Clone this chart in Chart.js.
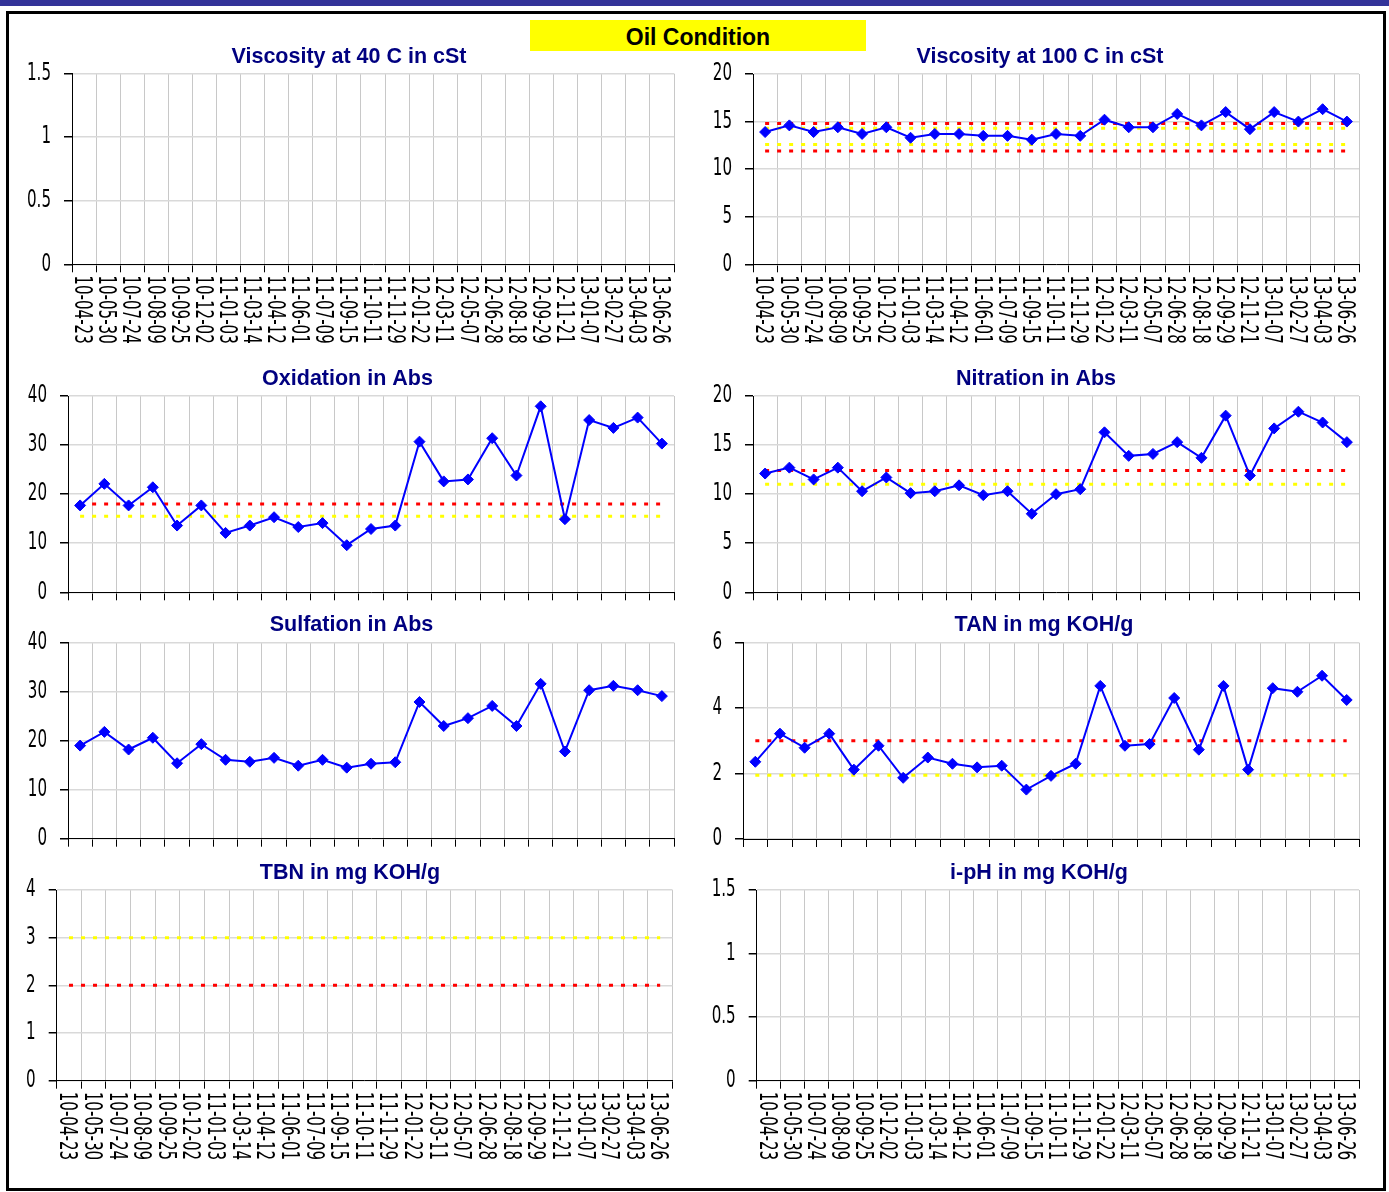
<!DOCTYPE html>
<html><head><meta charset="utf-8">
<script src="https://cdn.jsdelivr.net/npm/chart.js@4.4.1/dist/chart.umd.min.js"></script>
<style>
html,body{margin:0;padding:0;background:#fff;}
body{width:1389px;height:1192px;position:relative;overflow:hidden;font-family:"Liberation Sans",Arial,sans-serif;}
#topbar{position:absolute;left:0;top:0;width:1389px;height:6px;background:#333399;}
#frame{position:absolute;left:6px;top:11px;width:1380px;height:1180px;border:3px solid #000;box-sizing:border-box;}
#main{position:absolute;left:530px;top:20px;width:336px;height:31px;background:#ffff00;font:bold 23px "Liberation Sans",Arial,sans-serif;text-align:center;line-height:35px;color:#000;}
canvas{position:absolute;}
</style></head><body>
<div id="topbar"></div>
<div id="frame"></div>
<div id="main">Oil Condition</div>
<script>
// ---------- data ----------
const categories = ['10-04-23','10-05-30','10-07-24','10-08-09','10-09-25','10-12-02','11-01-03','11-03-14','11-04-12','11-06-01','11-07-09','11-09-15','11-10-11','11-11-29','12-01-22','12-03-11','12-05-07','12-06-28','12-08-18','12-09-29','12-11-21','13-01-07','13-02-27','13-04-03','13-06-26'];
const visc40 = [];
const visc100 = [13.9,14.6,13.9,14.4,13.7,14.4,13.3,13.7,13.7,13.5,13.5,13.1,13.7,13.5,15.2,14.4,14.4,15.8,14.6,16.0,14.2,16.0,15.0,16.3,15.0];
const oxidation = [17.7,22.1,17.7,21.4,13.6,17.7,12.1,13.6,15.3,13.3,14.1,9.6,12.9,13.6,30.7,22.6,23.0,31.4,23.8,37.9,14.9,35.1,33.5,35.6,30.3];
const nitration = [12.1,12.7,11.5,12.7,10.3,11.7,10.1,10.3,10.9,9.9,10.3,8.0,10.0,10.5,16.3,13.9,14.1,15.3,13.7,18.0,11.9,16.7,18.4,17.3,15.3];
const sulfation = [19.0,21.8,18.2,20.6,15.4,19.3,16.1,15.7,16.5,14.9,16.1,14.5,15.3,15.6,27.9,23.0,24.6,27.1,23.0,31.6,17.8,30.3,31.2,30.3,29.1];
const tan = [2.36,3.22,2.79,3.22,2.12,2.85,1.87,2.49,2.30,2.19,2.24,1.51,1.93,2.30,4.68,2.85,2.90,4.31,2.73,4.68,2.12,4.61,4.50,4.99,4.25];
const tbn = [];
const iph = [];
// limit levels
const visc100Red = [11.9, 14.8];
const visc100Yellow = [12.6, 14.3];
const oxidationRed = [18.0];
const oxidationYellow = [15.5];
const nitrationRed = [12.4];
const nitrationYellow = [11.0];
const tanRed = [3.0];
const tanYellow = [1.95];
const tbnRed = [2.0];
const tbnYellow = [3.0];
// y axis ranges [min, max, step]
const visc40Axis = [0, 1.5, 0.5];
const visc100Axis = [0, 20, 5];
const oxidationAxis = [0, 40, 10];
const nitrationAxis = [0, 20, 5];
const sulfationAxis = [0, 40, 10];
const tanAxis = [0, 6, 2];
const tbnAxis = [0, 4, 1];
const iphAxis = [0, 1.5, 0.5];

// ---------- drawing ----------
const LABEL_FONT = '"Liberation Sans Narrow","DejaVu Sans Condensed","Liberation Sans",sans-serif';
const TITLE_FONT = '"Liberation Sans",Arial,sans-serif';

const axisLabels = {
  id: 'axisLabels',
  afterDraw(chart, args, opts) {
    const ctx = chart.ctx;
    ctx.save();
    ctx.font = '24px ' + LABEL_FONT;
    const k = 9.6 / ctx.measureText('0').width;
    const cap = 17.5;
    ctx.fillStyle = '#000';
    const ys = chart.scales.y;
    ys.ticks.forEach((t, i) => {
      const y = ys.getPixelForTick(i);
      ctx.save();
      ctx.translate(ys.right - 21, y - 2.5 + cap / 2);
      ctx.scale(k, 1);
      ctx.textAlign = 'right';
      ctx.textBaseline = 'alphabetic';
      ctx.fillText(String(parseFloat(t.value.toFixed(6))), 0, 0);
      ctx.restore();
    });
    if (opts.xLabels) {
      const xs = chart.scales.x;
      xs.ticks.forEach((t, i) => {
        const x = xs.getPixelForTick(i);
        ctx.save();
        ctx.translate(x, xs.top + 11);
        ctx.rotate(Math.PI / 2);
        ctx.scale(k, 1);
        ctx.textAlign = 'left';
        ctx.textBaseline = 'alphabetic';
        ctx.fillText(String(chart.data.labels[t.value]), 0, cap / 2);
        ctx.restore();
      });
    }
    ctx.restore();
  }
};

function seriesDataset(values) {
  return {
    data: values, borderColor: '#0000ff', backgroundColor: '#0000ff', borderWidth: 2,
    pointStyle: 'rectRot', pointRadius: 5.5, pointBorderWidth: 1,
    pointBackgroundColor: '#0000ff', pointBorderColor: '#0000ff', tension: 0, fill: false
  };
}
function limitDataset(level, color) {
  return {
    data: categories.map(() => level), borderColor: color, borderWidth: 3,
    borderDash: [4, 8], borderCapStyle: 'butt', pointRadius: 0, fill: false, tension: 0
  };
}

function makeChart(spec) {
  const W = 680;
  const L = spec.canvasLeft;
  const titleLH = 22;
  const top = Math.round(spec.titleY - titleLH / 2 - 3);
  const canvasH = Math.round(spec.plotBottom - top + (spec.xLabels ? 90 : 12));
  const pt = spec.titleY - titleLH / 2 - top;
  const pb = spec.plotTop - top - pt - titleLH;
  const pr = W - (spec.plotRight - L);
  const pl = 2 * (spec.titleX - L) - (W - pr);
  const yw = spec.plotLeft - L - pl;
  const xh = canvasH - (spec.plotBottom - top);

  const canvas = document.createElement('canvas');
  canvas.width = W; canvas.height = canvasH;
  canvas.style.left = L + 'px'; canvas.style.top = top + 'px';
  canvas.style.width = W + 'px'; canvas.style.height = canvasH + 'px';
  document.body.appendChild(canvas);

  const datasets = [];
  if (spec.values && spec.values.length) datasets.push(seriesDataset(spec.values));
  (spec.red || []).forEach(v => datasets.push(limitDataset(v, '#ff0000')));
  (spec.yellow || []).forEach(v => datasets.push(limitDataset(v, '#ffff00')));

  new Chart(canvas, {
    type: 'line',
    data: { labels: categories, datasets },
    plugins: [axisLabels],
    options: {
      responsive: false, animation: false, devicePixelRatio: 1,
      layout: { padding: { left: pl, right: pr, top: 0, bottom: 0 } },
      plugins: {
        legend: { display: false }, tooltip: { enabled: false },
        title: {
          display: true, text: spec.title, color: '#000080',
          font: { family: TITLE_FONT, size: 21.5, weight: 'bold', lineHeight: titleLH / 21.5 },
          padding: { top: pt, bottom: pb }
        },
        axisLabels: { xLabels: spec.xLabels }
      },
      scales: {
        x: {
          type: 'category', offset: true,
          grid: { offset: true, color: '#c8c8c8', lineWidth: 1, tickLength: 8, tickColor: '#000' },
          border: { color: '#000', width: 1 },
          ticks: { display: false },
          afterFit: s => { s.height = xh; }
        },
        y: {
          min: spec.axis[0], max: spec.axis[1],
          ticks: { display: false, stepSize: spec.axis[2] },
          grid: { color: '#d9d9d9', lineWidth: 1.5, tickLength: 8, tickColor: '#000' },
          border: { color: '#000', width: 1 },
          afterFit: s => { s.width = yw; }
        }
      }
    }
  });
}

makeChart({ title: 'Viscosity at 40 C in cSt', values: visc40, axis: visc40Axis, canvasLeft: 8,
  titleX: 349, titleY: 57, plotLeft: 72, plotRight: 674, plotTop: 73.7, plotBottom: 264.3, xLabels: true });
makeChart({ title: 'Viscosity at 100 C in cSt', values: visc100, red: visc100Red, yellow: visc100Yellow, axis: visc100Axis, canvasLeft: 700,
  titleX: 1040, titleY: 57, plotLeft: 753, plotRight: 1359, plotTop: 74, plotBottom: 264.3, xLabels: true });
makeChart({ title: 'Oxidation in Abs', values: oxidation, red: oxidationRed, yellow: oxidationYellow, axis: oxidationAxis, canvasLeft: 8,
  titleX: 347.5, titleY: 379, plotLeft: 68, plotRight: 674, plotTop: 396, plotBottom: 592.3, xLabels: false });
makeChart({ title: 'Nitration in Abs', values: nitration, red: nitrationRed, yellow: nitrationYellow, axis: nitrationAxis, canvasLeft: 700,
  titleX: 1036, titleY: 379, plotLeft: 753, plotRight: 1359, plotTop: 396, plotBottom: 592.3, xLabels: false });
makeChart({ title: 'Sulfation in Abs', values: sulfation, axis: sulfationAxis, canvasLeft: 8,
  titleX: 351.5, titleY: 625, plotLeft: 68, plotRight: 674, plotTop: 642.7, plotBottom: 838.7, xLabels: false });
makeChart({ title: 'TAN in mg KOH/g', values: tan, red: tanRed, yellow: tanYellow, axis: tanAxis, canvasLeft: 700,
  titleX: 1044, titleY: 625, plotLeft: 743, plotRight: 1359, plotTop: 642.7, plotBottom: 839, xLabels: false });
makeChart({ title: 'TBN in mg KOH/g', values: tbn, red: tbnRed, yellow: tbnYellow, axis: tbnAxis, canvasLeft: 8,
  titleX: 350, titleY: 873, plotLeft: 56.7, plotRight: 672.5, plotTop: 890, plotBottom: 1080.7, xLabels: true });
makeChart({ title: 'i-pH in mg KOH/g', values: iph, axis: iphAxis, canvasLeft: 700,
  titleX: 1039, titleY: 873, plotLeft: 756.7, plotRight: 1359, plotTop: 890, plotBottom: 1080.7, xLabels: true });
</script>
</body></html>
